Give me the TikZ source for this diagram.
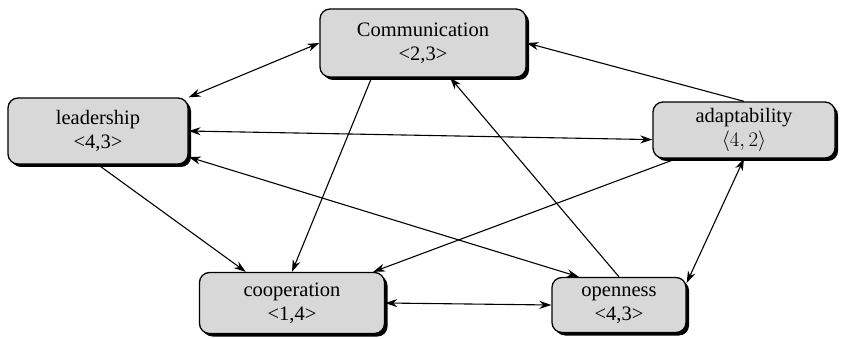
\documentclass[tikz,border=0pt]{standalone}
\usepackage{fontspec}
\setmainfont{Liberation Serif}
\usetikzlibrary{shadows,arrows.meta}
\definecolor{boxColor}{RGB}{216,216,216}
\tikzstyle{diagram} = [x = 1pt, y = -1pt]
\tikzstyle{stateBox} = [draw=black, fill=boxColor, line width=1.3pt, rounded corners=10pt, align=center, inner sep=0pt, font=\fontsize{20.5}{24}\selectfont, drop shadow={shadow xshift=3pt, shadow yshift=-3pt, fill=black, opacity=1}]
\tikzstyle{link} = [line width=1.1pt, -{Stealth[length=12pt, width=8pt]}]
\tikzstyle{biLink} = [line width=1.1pt, {Stealth[length=12pt, width=8pt]}-{Stealth[length=12pt, width=8pt]}]
\newcommand{\stateNode}[5]{\node [stateBox, minimum width=#3, minimum height=#4] (#1) at (#2) {#5};}

\begin{document}
\begin{tikzpicture}[diagram]
        \useasboundingbox (0,0) rectangle (841,339);
        \stateNode{comm}{423,43}{206pt}{68pt}{Communication\\<2,3>}
        \stateNode{lead}{98,131}{180pt}{66pt}{leadership\\<4,3>}
        \stateNode{adapt}{744,130}{182pt}{56pt}{adaptability\\$\langle 4, 2\rangle$}
        \stateNode{coop}{292,303}{185pt}{61pt}{cooperation\\<1,4>}
        \stateNode{open}{619,305}{134pt}{55pt}{openness\\<4,3>}
        \draw [biLink] (comm.west) -- (lead.north east);
        \draw [biLink] (lead.east) -- (adapt.186);
        \draw [link] (adapt.north) -- (comm.east);
        \draw [link] (comm.214) -- (coop.north);
        \draw [link] (open.north) -- (comm.308);
        \draw [link] (lead.south) -- (coop.146);
        \draw [biLink] (lead.-16) -- (open.145);
        \draw [link] (adapt.203) -- (coop.21);
        \draw [biLink] (adapt.south) -- (open.18);
        \draw [biLink] (coop.east) -- (open.west);
      \end{tikzpicture}
\end{document}
